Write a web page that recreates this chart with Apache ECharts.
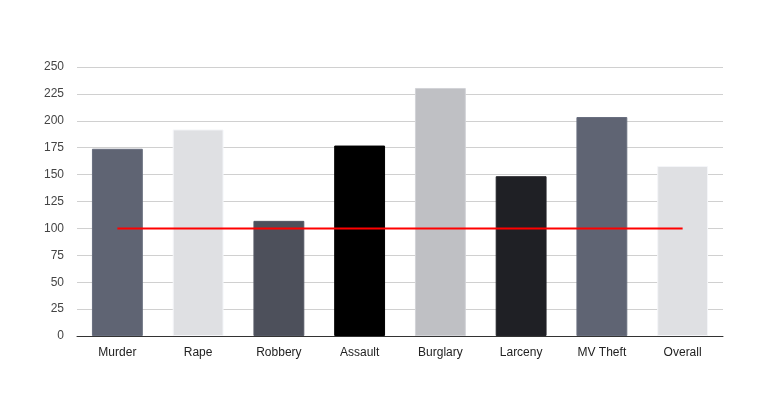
<!DOCTYPE html>
<html><head><meta charset="utf-8">
<script src="https://cdn.jsdelivr.net/npm/echarts@6/dist/echarts.min.js"></script>
<style>html,body{margin:0;padding:0;background:#fff}#c{width:766px;height:405px}</style>
</head><body><div id="c"></div>
<script>
const categories = ["Murder","Rape","Robbery","Assault","Burglary","Larceny","MV Theft","Overall"];
const values = [174, 192, 107, 177, 230.5, 148.5, 203.5, 158];
const baseline = [100, 100, 100, 100, 100, 100, 100, 100];
const barColors = ["#5f6473","#dfe0e3","#4d505b","#000000","#bfc0c4","#1f2025","#5f6473","#dfe0e3"];
const yTicks = {min: 0, max: 250, interval: 25};

const chart = echarts.init(document.getElementById('c'), null, {renderer: 'canvas'});
chart.setOption({
  animation: false,
  grid: {left: 77, right: 43, top: 67, bottom: 69},
  xAxis: {
    type: 'category', data: categories,
    axisLine: {lineStyle: {color: '#333', width: 1}},
    axisTick: {show: false},
    axisLabel: {color: '#222', fontSize: 12, fontFamily: '"Liberation Sans", Arial', margin: 11}
  },
  yAxis: {
    type: 'value', min: yTicks.min, max: yTicks.max, interval: yTicks.interval,
    axisLine: {show: false}, axisTick: {show: false},
    axisLabel: {color: '#444', fontSize: 12, fontFamily: '"Liberation Sans", Arial', margin: 13},
    splitLine: {lineStyle: {color: '#d0d0d0'}}
  },
  series: [
    {
      type: 'bar', barWidth: '63%',
      data: values.map((v, i) => ({value: v, itemStyle: {color: barColors[i], borderRadius: 0, borderColor: barColors[i] === '#000000' ? '#000' : echarts.color.lift(barColors[i], -0.1), borderWidth: 1}}))
    },
    {
      type: 'line', data: baseline, symbol: 'none',
      lineStyle: {color: '#ff0000', width: 2}, z: 5
    }
  ]
});
</script></body></html>
